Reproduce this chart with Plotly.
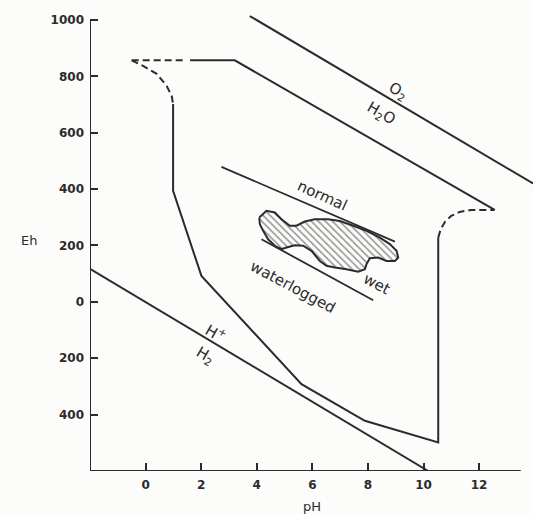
import plotly.graph_objects as go

INK = "#2b2b2b"
BG = "#fcfcfb"

# Axis ticks (negative Eh labels are printed without sign)
ph_ticks = [0, 2, 4, 6, 8, 10, 12]
eh_ticks = [-400, -200, 0, 200, 400, 600, 800, 1000]
eh_ticktext = ["400", "200", "0", "200", "400", "600", "800", "1000"]

# Water stability limits
o2_ph = [3.75, 13.94]
o2_eh = [1014, 420]
h2_ph = [-2.0, 10.17]
h2_eh = [117, -600]

# Envelope of natural environments: solid boundary segments
top_ph = [1.6, 3.21, 12.56]
top_eh = [857, 857, 326]
side_ph = [0.99, 0.99, 2.01, 5.61, 7.89, 10.53, 10.53]
side_eh = [702, 394, 92, -292, -422, -499, 228]

# Envelope: uncertain (dashed) parts
dash_top_ph = [-0.5, 1.41]
dash_top_eh = [857, 857]
dash_left_ph = [-0.5, -0.09, 0.40, 0.76, 0.94, 0.99]
dash_left_eh = [857, 837, 809, 766, 730, 702]
dash_right_ph = [10.53, 10.62, 10.78, 11.0, 11.3, 11.7, 12.56]
dash_right_eh = [228, 258, 285, 305, 319, 326, 326]

# Soil drainage boundaries
normal_ph = [2.73, 8.97]
normal_eh = [479, 214]
waterlogged_ph = [4.17, 8.19]
waterlogged_eh = [222, 6]

# Hatched field of measured soils
soil_ph = [4.09, 4.35, 4.65, 4.89, 5.19, 5.43, 5.73, 6.09, 6.57, 6.99, 7.47, 7.95,
           8.43, 8.79, 9.03, 9.09, 8.97, 8.67, 8.37, 8.07, 7.95, 7.89, 7.65, 7.23,
           6.81, 6.51, 6.27, 5.97, 5.67, 5.37, 5.07, 4.89, 4.65, 4.41, 4.23, 4.11, 4.09]
soil_eh = [299, 323, 317, 293, 270, 270, 285, 293, 293, 287, 270, 252,
           228, 205, 181, 157, 145, 145, 157, 155, 134, 116, 107, 116,
           122, 128, 145, 181, 199, 201, 193, 187, 199, 222, 252, 276, 299]

fig = go.Figure()

solid = dict(color=INK, width=2)
dashed = dict(color=INK, width=2, dash="7px,4px")

for xs, ys, ln in [
    (o2_ph, o2_eh, solid),
    (h2_ph, h2_eh, solid),
    (top_ph, top_eh, solid),
    (side_ph, side_eh, solid),
    (dash_top_ph, dash_top_eh, dashed),
    (dash_left_ph, dash_left_eh, dashed),
    (dash_right_ph, dash_right_eh, dashed),
    (normal_ph, normal_eh, dict(color=INK, width=1.8)),
    (waterlogged_ph, waterlogged_eh, dict(color=INK, width=1.8)),
]:
    fig.add_trace(go.Scatter(x=xs, y=ys, mode="lines", line=ln,
                             hoverinfo="skip", showlegend=False, cliponaxis=False))

fig.add_trace(go.Scatter(
    x=soil_ph, y=soil_eh, mode="lines", fill="toself",
    line=dict(color=INK, width=2),
    fillcolor=BG,
    fillpattern=dict(shape="\\", size=5, solidity=0.3, fgcolor=INK, bgcolor=BG),
    hoverinfo="skip", showlegend=False,
))

# Axis lines
fig.add_shape(type="line", xref="x", yref="y", x0=-2, y0=-600, x1=13.5, y1=-600,
              line=dict(color=INK, width=2))
fig.add_shape(type="line", xref="x", yref="y", x0=-2, y0=-600, x1=-2, y1=1000,
              line=dict(color=INK, width=2))

label_font = dict(family="DejaVu Sans", size=15, color=INK)
labels = [
    ("O<sub>2</sub>", 9.1, 748, 30),
    ("H<sub>2</sub>O", 8.46, 667, 30),
    ("normal", 6.38, 376, 24),
    ("wet", 8.32, 64, 28),
    ("waterlogged", 5.30, 53, 28),
    ("H<sup>+</sup>", 2.55, -109, 30),
    ("H<sub>2</sub>", 2.13, -192, 30),
]
for text, x, y, ang in labels:
    fig.add_annotation(text=text, x=x, y=y, xref="x", yref="y", showarrow=False,
                       textangle=ang, font=label_font)

fig.add_annotation(text="Eh", xref="paper", yref="y", x=-0.138, y=216,
                   xanchor="center", yanchor="middle",
                   showarrow=False, font=dict(family="DejaVu Sans", size=13, color=INK))
fig.add_annotation(text="pH", xref="x", yref="paper", x=6, y=-0.076,
                   xanchor="center", yanchor="middle",
                   showarrow=False, font=dict(family="DejaVu Sans", size=13, color=INK))

tick_font = dict(family="DejaVu Sans", size=12, color=INK, weight="bold")

fig.update_layout(
    width=533, height=514,
    margin=dict(l=90, r=0, t=0, b=43),
    paper_bgcolor=BG, plot_bgcolor=BG,
    xaxis=dict(range=[-2, 13.94], showgrid=False, zeroline=False, showline=False,
               ticks="inside", ticklen=8, tickwidth=2, tickcolor=INK,
               tickvals=ph_ticks, tickfont=tick_font, ticklabelstandoff=5,
               fixedrange=True),
    yaxis=dict(range=[-600, 1070.9], showgrid=False, zeroline=False, showline=False,
               ticks="inside", ticklen=8, tickwidth=2, tickcolor=INK,
               tickvals=eh_ticks, ticktext=eh_ticktext, tickfont=tick_font,
               ticklabelstandoff=5, fixedrange=True),
)

fig.write_html("out.html")
